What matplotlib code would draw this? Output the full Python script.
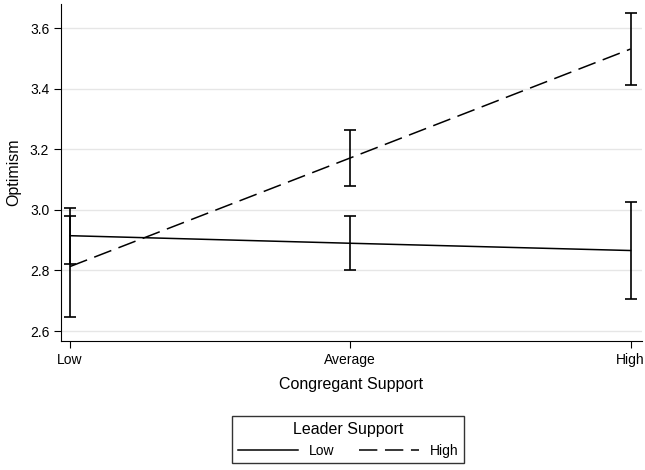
import matplotlib.pyplot as plt

plt.rcParams['font.family'] = ['Liberation Sans', 'DejaVu Sans']

categories = ["Low", "Average", "High"]
low_mean = [2.915, 2.890, 2.866]
low_lo = [2.822, 2.800, 2.706]
low_hi = [3.006, 2.980, 3.026]
high_mean = [2.813, 3.172, 3.532]
high_lo = [2.645, 3.080, 3.414]
high_hi = [2.980, 3.265, 3.650]
yticks = [2.6, 2.8, 3.0, 3.2, 3.4, 3.6]

fig = plt.figure(figsize=(6.45, 4.70), dpi=100)
ax = fig.add_axes([0.0946, 0.2745, 0.9, 0.7165])

x = list(range(len(categories)))
ax.plot(x, low_mean, color="black", lw=1.1, label="Low")
ax.plot(x, high_mean, color="black", lw=1.1, dashes=(12, 5), label="High")
ax.errorbar(x, low_mean,
            yerr=[[m - l for m, l in zip(low_mean, low_lo)], [h - m for m, h in zip(low_mean, low_hi)]],
            fmt="none", ecolor="black", elinewidth=1.2, capsize=4, capthick=1.2)
ax.errorbar(x, high_mean,
            yerr=[[m - l for m, l in zip(high_mean, high_lo)], [h - m for m, h in zip(high_mean, high_hi)]],
            fmt="none", ecolor="black", elinewidth=1.2, capsize=4, capthick=1.2)

ax.set_xlim(-0.032, 2.039)
ax.set_ylim(2.567, 3.68)
ax.set_xticks(x)
ax.set_xticklabels(categories)
ax.set_yticks(yticks)
ax.set_yticklabels([f"{v:.1f}" for v in yticks])
ax.yaxis.grid(True, color="#e6e6e6", lw=1)
ax.set_axisbelow(True)
for s in ["top", "right"]:
    ax.spines[s].set_visible(False)
ax.tick_params(direction="out", length=5, labelsize=10)
ax.set_xlabel("Congregant Support", fontsize=11.5, labelpad=7)
ax.set_ylabel("Optimism", fontsize=11.5, labelpad=6)

leg = fig.legend(loc="center", bbox_to_anchor=(0.54, 0.064), ncol=2, title="Leader Support",
                 frameon=True, fancybox=False, edgecolor="black", fontsize=10,
                 title_fontsize=11.5, handlelength=4.3, columnspacing=1.8, borderpad=0.4)
leg.get_frame().set_linewidth(1)

fig.savefig("out.png", dpi=100)
